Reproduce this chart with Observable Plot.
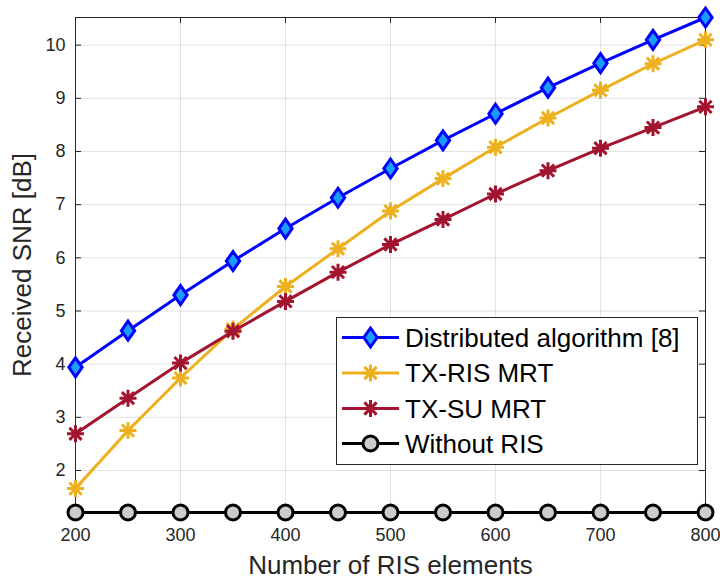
<!DOCTYPE html>
<html>
<head>
<meta charset="utf-8">
<script src="https://cdn.jsdelivr.net/npm/d3@7"></script>
<script src="https://cdn.jsdelivr.net/npm/@observablehq/plot@0.6"></script>
<style>
  html, body { margin: 0; padding: 0; background: #fff; }
  #chart { width: 720px; height: 580px; }
</style>
</head>
<body>
<div id="chart"></div>
<script>
// ---- data ----
const elements = [200, 250, 300, 350, 400, 450, 500, 550, 600, 650, 700, 750, 800];
const distributed = [3.94, 4.63, 5.30, 5.94, 6.55, 7.13, 7.68, 8.21, 8.71, 9.20, 9.66, 10.10, 10.52];
const txRis = [1.66, 2.75, 3.74, 4.66, 5.46, 6.17, 6.88, 7.49, 8.08, 8.63, 9.15, 9.65, 10.10];
const txSu = [2.69, 3.36, 4.02, 4.62, 5.18, 5.73, 6.25, 6.72, 7.20, 7.64, 8.06, 8.45, 8.84];
const withoutRis = [1.21, 1.21, 1.21, 1.21, 1.21, 1.21, 1.21, 1.21, 1.21, 1.21, 1.21, 1.21, 1.21];
const seriesNames = ["Distributed algorithm [8]", "TX-RIS MRT", "TX-SU MRT", "Without RIS"];
const xTicks = [200, 300, 400, 500, 600, 700, 800];
const yTicks = [2, 3, 4, 5, 6, 7, 8, 9, 10];
const xLabel = "Number of RIS elements";
const yLabel = "Received SNR [dB]";

// ---- symbols ----
const diamondSym = {
  draw(ctx, size) {
    const r = Math.sqrt(size / Math.PI);
    const w = r * 0.7;
    ctx.moveTo(0, -r); ctx.lineTo(w, 0); ctx.lineTo(0, r); ctx.lineTo(-w, 0); ctx.closePath();
  }
};
const asteriskSym = {
  draw(ctx, size) {
    const r = Math.sqrt(size / Math.PI);
    const d = r * 0.72;
    ctx.moveTo(0, -r); ctx.lineTo(0, r);
    ctx.moveTo(-r, 0); ctx.lineTo(r, 0);
    ctx.moveTo(-d, -d); ctx.lineTo(d, d);
    ctx.moveTo(-d, d); ctx.lineTo(d, -d);
  }
};
const circleSym = {
  draw(ctx, size) {
    const r = Math.sqrt(size / Math.PI);
    ctx.moveTo(r, 0); ctx.arc(0, 0, r, 0, 2 * Math.PI);
  }
};

const styles = [
  {values: distributed, stroke: "#0000ff", symbol: diamondSym, r: 9.5, mStroke: "#0000ff", mFill: "#1a9cff", mw: 3},
  {values: txRis, stroke: "#edb120", symbol: asteriskSym, r: 8.5, mStroke: "#edb120", mFill: "none", mw: 3},
  {values: txSu, stroke: "#a2142f", symbol: asteriskSym, r: 8.5, mStroke: "#a2142f", mFill: "none", mw: 3},
  {values: withoutRis, stroke: "#000000", symbol: circleSym, r: 7.5, mStroke: "#000000", mFill: "#cccccc", mw: 3}
];

const tables = styles.map((s, i) => elements.map((x, j) => ({x, y: s.values[j], series: seriesNames[i]})));

const W = 720, H = 580, mL = 75, mR = 15, mT = 17, mB = 68;
const plotW = W - mL - mR, plotH = H - mT - mB;
const axisColor = "#262626";
const font = "'Liberation Sans', Arial, Helvetica, sans-serif";

const marks = [
  Plot.gridX(xTicks, {stroke: "#262626", strokeOpacity: 0.13, strokeWidth: 1}),
  Plot.gridY(yTicks, {stroke: "#262626", strokeOpacity: 0.13, strokeWidth: 1}),
  Plot.frame({stroke: axisColor, strokeWidth: 1}),
  // inward ticks
  Plot.tickX(xTicks, {x: d => d, insetTop: plotH - 6, stroke: axisColor}),
  Plot.tickX(xTicks, {x: d => d, insetBottom: plotH - 6, stroke: axisColor}),
  Plot.tickY(yTicks, {y: d => d, insetRight: plotW - 6, stroke: axisColor}),
  Plot.tickY(yTicks, {y: d => d, insetLeft: plotW - 6, stroke: axisColor}),
  Plot.axisX(xTicks, {tickSize: 0, tickPadding: 16, fontSize: 18, label: null, fill: axisColor, tickFormat: d => String(d)}),
  Plot.axisY(yTicks, {tickSize: 0, tickPadding: 10, fontSize: 18, label: null, fill: axisColor, tickFormat: d => String(d)}),
  Plot.text([xLabel], {frameAnchor: "bottom", dy: 53, fontSize: 26, fill: axisColor, textAnchor: "middle", lineAnchor: "middle"}),
  Plot.text([yLabel], {frameAnchor: "left", dx: -53, rotate: -90, fontSize: 26, fill: axisColor, textAnchor: "middle", lineAnchor: "middle"})
];
styles.forEach((s, i) => {
  marks.push(Plot.line(tables[i], {x: "x", y: "y", stroke: s.stroke, strokeWidth: 3}));
  marks.push(Plot.dot(tables[i], {x: "x", y: "y", symbol: s.symbol, r: s.r, stroke: s.mStroke, fill: s.mFill, strokeWidth: s.mw}));
});

const plot = Plot.plot({
  width: W, height: H,
  marginLeft: mL, marginRight: mR, marginTop: mT, marginBottom: mB,
  style: {fontFamily: font, background: "#fff", overflow: "visible"},
  x: {domain: [200, 800]},
  y: {domain: [1.21, 10.52]},
  marks
});
document.getElementById("chart").appendChild(plot);

// ---- legend ----
const svg = d3.select(plot);
const lg = svg.append("g").attr("font-family", font).attr("text-anchor", "start");
lg.append("rect").attr("x", 336.5).attr("y", 317.5).attr("width", 361).attr("height", 147)
  .attr("fill", "#fff").attr("stroke", axisColor).attr("stroke-width", 1);
const rowY = [337.5, 373, 408.5, 443.5];
styles.forEach((s, i) => {
  const g = lg.append("g").attr("transform", `translate(0,${rowY[i]})`);
  g.append("line").attr("x1", 342).attr("x2", 399).attr("y1", 0).attr("y2", 0)
    .attr("stroke", s.stroke).attr("stroke-width", 3);
  g.append("path").attr("transform", "translate(370.5,0)")
    .attr("d", d3.symbol(s.symbol, s.r * s.r * Math.PI)())
    .attr("stroke", s.mStroke).attr("fill", s.mFill).attr("stroke-width", s.mw);
  g.append("text").attr("x", 405).attr("y", 0).attr("dy", "0.36em")
    .attr("text-anchor", "start")
    .attr("font-size", 26).attr("fill", "#000").text(seriesNames[i]);
});
</script>
</body>
</html>
